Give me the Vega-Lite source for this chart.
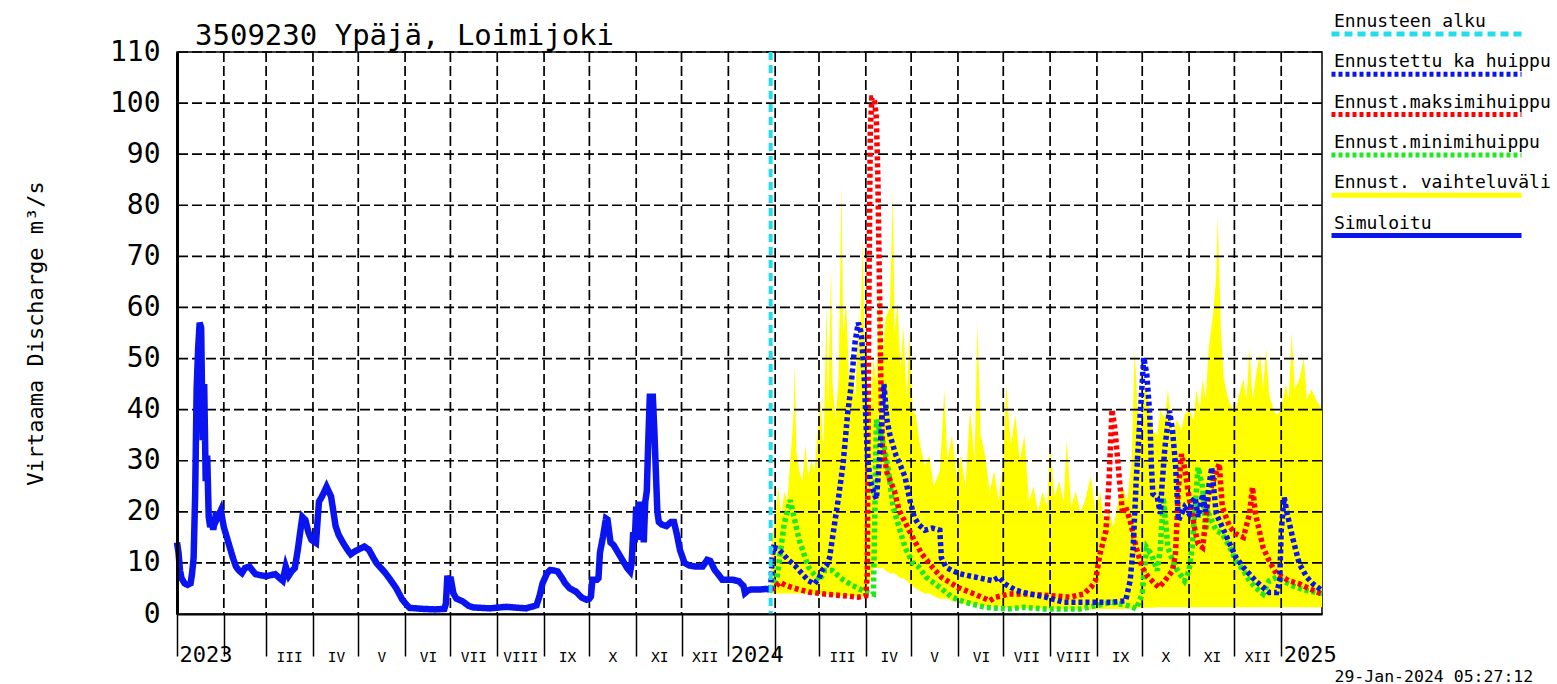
{
  "$schema": "https://vega.github.io/schema/vega-lite/v6.json",
  "width": 1145,
  "height": 562,
  "autosize": {"type": "none"},
  "padding": {"left": 177, "top": 52, "right": 235, "bottom": 70},
  "background": "white",
  "config": {"font": "DejaVu Sans Mono", "view": {"stroke": "black", "strokeWidth": 1.5}},
  "title": {"text": "3509230 Ypäjä, Loimijoki", "anchor": "start", "frame": "group", "dx": 18, "dy": 38, "offset": -23, "baseline": "alphabetic", "fontSize": 29, "fontWeight": "normal", "color": "black", "font": "DejaVu Sans Mono"},
  "datasets": {
    "vgrid": [
      {"date": "2023-02-01"}, {"date": "2023-03-01"}, {"date": "2023-04-01"}, {"date": "2023-05-01"}, {"date": "2023-06-01"}, {"date": "2023-07-01"},
      {"date": "2023-08-01"}, {"date": "2023-09-01"}, {"date": "2023-10-01"}, {"date": "2023-11-01"}, {"date": "2023-12-01"}, {"date": "2024-01-01"},
      {"date": "2024-02-01"}, {"date": "2024-03-01"}, {"date": "2024-04-01"}, {"date": "2024-05-01"}, {"date": "2024-06-01"}, {"date": "2024-07-01"},
      {"date": "2024-08-01"}, {"date": "2024-09-01"}, {"date": "2024-10-01"}, {"date": "2024-11-01"}, {"date": "2024-12-01"}, {"date": "2025-01-01"}
    ],
    "hgrid": [{"q": 10}, {"q": 20}, {"q": 30}, {"q": 40}, {"q": 50}, {"q": 60}, {"q": 70}, {"q": 80}, {"q": 90}, {"q": 100}, {"q": 110}],
    "start": [{"date": "2024-01-29"}],
    "band": [
      {"date": "2024-01-29", "lo": 4, "hi": 5}, {"date": "2024-01-30", "lo": 4, "hi": 15}, {"date": "2024-02-01", "lo": 4, "hi": 18},
      {"date": "2024-02-03", "lo": 4, "hi": 25}, {"date": "2024-02-05", "lo": 4, "hi": 19}, {"date": "2024-02-07", "lo": 4, "hi": 24},
      {"date": "2024-02-09", "lo": 4, "hi": 22}, {"date": "2024-02-11", "lo": 4, "hi": 30}, {"date": "2024-02-13", "lo": 4, "hi": 38},
      {"date": "2024-02-14", "lo": 4, "hi": 49}, {"date": "2024-02-15", "lo": 4, "hi": 32}, {"date": "2024-02-17", "lo": 4, "hi": 28},
      {"date": "2024-02-19", "lo": 4, "hi": 26}, {"date": "2024-02-21", "lo": 4, "hi": 33}, {"date": "2024-02-23", "lo": 4, "hi": 27},
      {"date": "2024-02-25", "lo": 4, "hi": 30}, {"date": "2024-02-27", "lo": 3.8, "hi": 28}, {"date": "2024-02-29", "lo": 3.8, "hi": 35},
      {"date": "2024-03-02", "lo": 3.8, "hi": 42}, {"date": "2024-03-04", "lo": 3.8, "hi": 32}, {"date": "2024-03-06", "lo": 3.8, "hi": 61},
      {"date": "2024-03-07", "lo": 3.8, "hi": 40}, {"date": "2024-03-09", "lo": 3.8, "hi": 68}, {"date": "2024-03-10", "lo": 3.6, "hi": 45},
      {"date": "2024-03-12", "lo": 3.6, "hi": 38}, {"date": "2024-03-14", "lo": 3.6, "hi": 46}, {"date": "2024-03-16", "lo": 3.5, "hi": 84},
      {"date": "2024-03-17", "lo": 3.5, "hi": 55}, {"date": "2024-03-19", "lo": 3.5, "hi": 61}, {"date": "2024-03-21", "lo": 3.5, "hi": 45},
      {"date": "2024-03-23", "lo": 3.4, "hi": 49}, {"date": "2024-03-25", "lo": 3.4, "hi": 42}, {"date": "2024-03-27", "lo": 3.4, "hi": 59},
      {"date": "2024-03-28", "lo": 3.4, "hi": 50}, {"date": "2024-03-30", "lo": 3.4, "hi": 74}, {"date": "2024-03-31", "lo": 3.4, "hi": 55},
      {"date": "2024-04-02", "lo": 5, "hi": 45}, {"date": "2024-04-04", "lo": 7, "hi": 39}, {"date": "2024-04-06", "lo": 9, "hi": 50},
      {"date": "2024-04-08", "lo": 9, "hi": 45}, {"date": "2024-04-10", "lo": 9, "hi": 64}, {"date": "2024-04-12", "lo": 9, "hi": 50},
      {"date": "2024-04-14", "lo": 8.5, "hi": 58}, {"date": "2024-04-17", "lo": 8, "hi": 60}, {"date": "2024-04-19", "lo": 8, "hi": 83},
      {"date": "2024-04-20", "lo": 8, "hi": 55}, {"date": "2024-04-22", "lo": 7.5, "hi": 61}, {"date": "2024-04-24", "lo": 7, "hi": 48},
      {"date": "2024-04-26", "lo": 7, "hi": 56}, {"date": "2024-04-28", "lo": 6.5, "hi": 42}, {"date": "2024-04-30", "lo": 6, "hi": 55},
      {"date": "2024-05-02", "lo": 5.5, "hi": 40}, {"date": "2024-05-04", "lo": 5, "hi": 39}, {"date": "2024-05-07", "lo": 4.5, "hi": 33},
      {"date": "2024-05-10", "lo": 4, "hi": 29}, {"date": "2024-05-13", "lo": 4, "hi": 31}, {"date": "2024-05-16", "lo": 3.5, "hi": 25},
      {"date": "2024-05-20", "lo": 3, "hi": 28}, {"date": "2024-05-23", "lo": 3, "hi": 44}, {"date": "2024-05-25", "lo": 3, "hi": 30},
      {"date": "2024-05-28", "lo": 2.5, "hi": 35}, {"date": "2024-05-31", "lo": 2.5, "hi": 27}, {"date": "2024-06-03", "lo": 2, "hi": 31},
      {"date": "2024-06-06", "lo": 2, "hi": 25}, {"date": "2024-06-09", "lo": 2, "hi": 40}, {"date": "2024-06-12", "lo": 1.8, "hi": 30},
      {"date": "2024-06-14", "lo": 1.8, "hi": 57}, {"date": "2024-06-16", "lo": 1.6, "hi": 35}, {"date": "2024-06-19", "lo": 1.5, "hi": 31},
      {"date": "2024-06-22", "lo": 1.5, "hi": 24}, {"date": "2024-06-25", "lo": 1.4, "hi": 28}, {"date": "2024-06-28", "lo": 1.4, "hi": 22},
      {"date": "2024-07-01", "lo": 1.3, "hi": 30}, {"date": "2024-07-03", "lo": 1.3, "hi": 45}, {"date": "2024-07-06", "lo": 1.2, "hi": 33},
      {"date": "2024-07-09", "lo": 1.2, "hi": 39}, {"date": "2024-07-12", "lo": 1.2, "hi": 30}, {"date": "2024-07-15", "lo": 1.2, "hi": 35},
      {"date": "2024-07-18", "lo": 1.1, "hi": 22}, {"date": "2024-07-21", "lo": 1.1, "hi": 25}, {"date": "2024-07-24", "lo": 1.1, "hi": 20},
      {"date": "2024-07-27", "lo": 1.1, "hi": 24}, {"date": "2024-07-30", "lo": 1, "hi": 21}, {"date": "2024-08-01", "lo": 1, "hi": 33},
      {"date": "2024-08-04", "lo": 1, "hi": 23}, {"date": "2024-08-07", "lo": 1, "hi": 26}, {"date": "2024-08-10", "lo": 1, "hi": 22},
      {"date": "2024-08-12", "lo": 1, "hi": 34}, {"date": "2024-08-15", "lo": 1, "hi": 21}, {"date": "2024-08-18", "lo": 1, "hi": 24},
      {"date": "2024-08-21", "lo": 1, "hi": 20}, {"date": "2024-08-24", "lo": 1, "hi": 22}, {"date": "2024-08-28", "lo": 1, "hi": 27},
      {"date": "2024-08-31", "lo": 1, "hi": 20}, {"date": "2024-09-03", "lo": 1, "hi": 24}, {"date": "2024-09-06", "lo": 1, "hi": 18},
      {"date": "2024-09-09", "lo": 1, "hi": 20}, {"date": "2024-09-12", "lo": 1, "hi": 17}, {"date": "2024-09-15", "lo": 1, "hi": 22},
      {"date": "2024-09-18", "lo": 1, "hi": 25}, {"date": "2024-09-21", "lo": 1.1, "hi": 22}, {"date": "2024-09-24", "lo": 1.1, "hi": 30},
      {"date": "2024-09-26", "lo": 1.1, "hi": 52}, {"date": "2024-09-28", "lo": 1.1, "hi": 40}, {"date": "2024-09-30", "lo": 1.2, "hi": 35},
      {"date": "2024-10-03", "lo": 1.2, "hi": 46}, {"date": "2024-10-05", "lo": 1.2, "hi": 42}, {"date": "2024-10-08", "lo": 1.2, "hi": 36},
      {"date": "2024-10-11", "lo": 1.3, "hi": 35}, {"date": "2024-10-13", "lo": 1.3, "hi": 40}, {"date": "2024-10-16", "lo": 1.3, "hi": 38},
      {"date": "2024-10-18", "lo": 1.3, "hi": 44}, {"date": "2024-10-21", "lo": 1.3, "hi": 35}, {"date": "2024-10-24", "lo": 1.3, "hi": 38},
      {"date": "2024-10-27", "lo": 1.3, "hi": 36}, {"date": "2024-10-29", "lo": 1.3, "hi": 39}, {"date": "2024-11-01", "lo": 1.3, "hi": 40},
      {"date": "2024-11-04", "lo": 1.3, "hi": 38}, {"date": "2024-11-06", "lo": 1.3, "hi": 44}, {"date": "2024-11-08", "lo": 1.3, "hi": 40},
      {"date": "2024-11-10", "lo": 1.3, "hi": 46}, {"date": "2024-11-12", "lo": 1.3, "hi": 42}, {"date": "2024-11-14", "lo": 1.3, "hi": 52},
      {"date": "2024-11-17", "lo": 1.3, "hi": 59}, {"date": "2024-11-19", "lo": 1.3, "hi": 66}, {"date": "2024-11-20", "lo": 1.3, "hi": 78},
      {"date": "2024-11-22", "lo": 1.3, "hi": 56}, {"date": "2024-11-24", "lo": 1.3, "hi": 46}, {"date": "2024-11-27", "lo": 1.3, "hi": 42},
      {"date": "2024-11-30", "lo": 1.3, "hi": 40}, {"date": "2024-12-02", "lo": 1.3, "hi": 40}, {"date": "2024-12-05", "lo": 1.3, "hi": 44},
      {"date": "2024-12-07", "lo": 1.3, "hi": 46}, {"date": "2024-12-09", "lo": 1.3, "hi": 42}, {"date": "2024-12-11", "lo": 1.3, "hi": 52},
      {"date": "2024-12-13", "lo": 1.3, "hi": 42}, {"date": "2024-12-16", "lo": 1.3, "hi": 48}, {"date": "2024-12-18", "lo": 1.3, "hi": 51},
      {"date": "2024-12-20", "lo": 1.3, "hi": 44}, {"date": "2024-12-22", "lo": 1.3, "hi": 52}, {"date": "2024-12-24", "lo": 1.3, "hi": 43},
      {"date": "2024-12-27", "lo": 1.3, "hi": 40}, {"date": "2024-12-29", "lo": 1.3, "hi": 39}, {"date": "2025-01-01", "lo": 1.3, "hi": 40},
      {"date": "2025-01-04", "lo": 1.3, "hi": 45}, {"date": "2025-01-06", "lo": 1.3, "hi": 42}, {"date": "2025-01-08", "lo": 1.3, "hi": 55},
      {"date": "2025-01-10", "lo": 1.3, "hi": 44}, {"date": "2025-01-13", "lo": 1.3, "hi": 46}, {"date": "2025-01-16", "lo": 1.3, "hi": 50},
      {"date": "2025-01-18", "lo": 1.3, "hi": 42}, {"date": "2025-01-21", "lo": 1.3, "hi": 44}, {"date": "2025-01-24", "lo": 1.3, "hi": 42},
      {"date": "2025-01-28", "lo": 1.3, "hi": 40}
    ],
    "lines": [
      {"series": "Simuloitu", "date": "2023-01-01", "q": 14}, {"series": "Simuloitu", "date": "2023-01-02", "q": 12}, {"series": "Simuloitu", "date": "2023-01-03", "q": 8.5},
      {"series": "Simuloitu", "date": "2023-01-04", "q": 7}, {"series": "Simuloitu", "date": "2023-01-06", "q": 6}, {"series": "Simuloitu", "date": "2023-01-08", "q": 5.7},
      {"series": "Simuloitu", "date": "2023-01-10", "q": 6}, {"series": "Simuloitu", "date": "2023-01-11", "q": 8}, {"series": "Simuloitu", "date": "2023-01-12", "q": 11},
      {"series": "Simuloitu", "date": "2023-01-13", "q": 23}, {"series": "Simuloitu", "date": "2023-01-14", "q": 44}, {"series": "Simuloitu", "date": "2023-01-15", "q": 52},
      {"series": "Simuloitu", "date": "2023-01-16", "q": 57}, {"series": "Simuloitu", "date": "2023-01-17", "q": 56}, {"series": "Simuloitu", "date": "2023-01-18", "q": 34},
      {"series": "Simuloitu", "date": "2023-01-19", "q": 45}, {"series": "Simuloitu", "date": "2023-01-20", "q": 26}, {"series": "Simuloitu", "date": "2023-01-21", "q": 31},
      {"series": "Simuloitu", "date": "2023-01-22", "q": 19}, {"series": "Simuloitu", "date": "2023-01-23", "q": 17}, {"series": "Simuloitu", "date": "2023-01-24", "q": 18},
      {"series": "Simuloitu", "date": "2023-01-25", "q": 16.5}, {"series": "Simuloitu", "date": "2023-01-27", "q": 20}, {"series": "Simuloitu", "date": "2023-01-28", "q": 19},
      {"series": "Simuloitu", "date": "2023-01-30", "q": 20.3}, {"series": "Simuloitu", "date": "2023-02-01", "q": 17}, {"series": "Simuloitu", "date": "2023-02-03", "q": 15},
      {"series": "Simuloitu", "date": "2023-02-05", "q": 13}, {"series": "Simuloitu", "date": "2023-02-07", "q": 11}, {"series": "Simuloitu", "date": "2023-02-09", "q": 9.3},
      {"series": "Simuloitu", "date": "2023-02-11", "q": 8.5}, {"series": "Simuloitu", "date": "2023-02-13", "q": 8}, {"series": "Simuloitu", "date": "2023-02-15", "q": 9},
      {"series": "Simuloitu", "date": "2023-02-18", "q": 9.3}, {"series": "Simuloitu", "date": "2023-02-20", "q": 8.5}, {"series": "Simuloitu", "date": "2023-02-22", "q": 7.8},
      {"series": "Simuloitu", "date": "2023-02-25", "q": 7.6}, {"series": "Simuloitu", "date": "2023-03-01", "q": 7.4}, {"series": "Simuloitu", "date": "2023-03-04", "q": 7.6},
      {"series": "Simuloitu", "date": "2023-03-07", "q": 7.8}, {"series": "Simuloitu", "date": "2023-03-10", "q": 7}, {"series": "Simuloitu", "date": "2023-03-12", "q": 6.5},
      {"series": "Simuloitu", "date": "2023-03-14", "q": 9.3}, {"series": "Simuloitu", "date": "2023-03-16", "q": 7.5}, {"series": "Simuloitu", "date": "2023-03-18", "q": 8.4},
      {"series": "Simuloitu", "date": "2023-03-20", "q": 9}, {"series": "Simuloitu", "date": "2023-03-22", "q": 12.6}, {"series": "Simuloitu", "date": "2023-03-24", "q": 17},
      {"series": "Simuloitu", "date": "2023-03-25", "q": 19}, {"series": "Simuloitu", "date": "2023-03-27", "q": 18.4}, {"series": "Simuloitu", "date": "2023-03-29", "q": 16},
      {"series": "Simuloitu", "date": "2023-03-31", "q": 14.5}, {"series": "Simuloitu", "date": "2023-04-03", "q": 13.9}, {"series": "Simuloitu", "date": "2023-04-04", "q": 18},
      {"series": "Simuloitu", "date": "2023-04-05", "q": 22}, {"series": "Simuloitu", "date": "2023-04-07", "q": 23}, {"series": "Simuloitu", "date": "2023-04-10", "q": 24.9},
      {"series": "Simuloitu", "date": "2023-04-13", "q": 23}, {"series": "Simuloitu", "date": "2023-04-16", "q": 17.2}, {"series": "Simuloitu", "date": "2023-04-18", "q": 15.5},
      {"series": "Simuloitu", "date": "2023-04-21", "q": 13.9}, {"series": "Simuloitu", "date": "2023-04-24", "q": 12.5}, {"series": "Simuloitu", "date": "2023-04-26", "q": 11.7},
      {"series": "Simuloitu", "date": "2023-04-29", "q": 12.3}, {"series": "Simuloitu", "date": "2023-05-01", "q": 12.6}, {"series": "Simuloitu", "date": "2023-05-05", "q": 13.2},
      {"series": "Simuloitu", "date": "2023-05-08", "q": 12.6}, {"series": "Simuloitu", "date": "2023-05-11", "q": 11}, {"series": "Simuloitu", "date": "2023-05-13", "q": 10},
      {"series": "Simuloitu", "date": "2023-05-16", "q": 9}, {"series": "Simuloitu", "date": "2023-05-19", "q": 8}, {"series": "Simuloitu", "date": "2023-05-22", "q": 6.8},
      {"series": "Simuloitu", "date": "2023-05-26", "q": 5.1}, {"series": "Simuloitu", "date": "2023-05-30", "q": 2.9}, {"series": "Simuloitu", "date": "2023-06-02", "q": 1.8},
      {"series": "Simuloitu", "date": "2023-06-04", "q": 1.2}, {"series": "Simuloitu", "date": "2023-06-13", "q": 1}, {"series": "Simuloitu", "date": "2023-06-21", "q": 0.9},
      {"series": "Simuloitu", "date": "2023-06-27", "q": 1}, {"series": "Simuloitu", "date": "2023-06-28", "q": 2}, {"series": "Simuloitu", "date": "2023-06-29", "q": 7.5},
      {"series": "Simuloitu", "date": "2023-06-30", "q": 6}, {"series": "Simuloitu", "date": "2023-07-01", "q": 7.3}, {"series": "Simuloitu", "date": "2023-07-03", "q": 4},
      {"series": "Simuloitu", "date": "2023-07-05", "q": 3}, {"series": "Simuloitu", "date": "2023-07-09", "q": 2.5}, {"series": "Simuloitu", "date": "2023-07-13", "q": 1.6},
      {"series": "Simuloitu", "date": "2023-07-16", "q": 1.3}, {"series": "Simuloitu", "date": "2023-07-27", "q": 1.1}, {"series": "Simuloitu", "date": "2023-08-07", "q": 1.4},
      {"series": "Simuloitu", "date": "2023-08-20", "q": 1.1}, {"series": "Simuloitu", "date": "2023-08-27", "q": 1.7}, {"series": "Simuloitu", "date": "2023-08-29", "q": 3.5},
      {"series": "Simuloitu", "date": "2023-08-31", "q": 6}, {"series": "Simuloitu", "date": "2023-09-03", "q": 8}, {"series": "Simuloitu", "date": "2023-09-05", "q": 8.6},
      {"series": "Simuloitu", "date": "2023-09-08", "q": 8.5}, {"series": "Simuloitu", "date": "2023-09-10", "q": 8.3}, {"series": "Simuloitu", "date": "2023-09-13", "q": 7},
      {"series": "Simuloitu", "date": "2023-09-15", "q": 6}, {"series": "Simuloitu", "date": "2023-09-18", "q": 5}, {"series": "Simuloitu", "date": "2023-09-22", "q": 4.4},
      {"series": "Simuloitu", "date": "2023-09-26", "q": 3.2}, {"series": "Simuloitu", "date": "2023-09-29", "q": 2.8}, {"series": "Simuloitu", "date": "2023-10-01", "q": 3},
      {"series": "Simuloitu", "date": "2023-10-02", "q": 3.4}, {"series": "Simuloitu", "date": "2023-10-03", "q": 6.7}, {"series": "Simuloitu", "date": "2023-10-06", "q": 6.7},
      {"series": "Simuloitu", "date": "2023-10-07", "q": 7}, {"series": "Simuloitu", "date": "2023-10-08", "q": 12}, {"series": "Simuloitu", "date": "2023-10-10", "q": 15.1},
      {"series": "Simuloitu", "date": "2023-10-12", "q": 18.7}, {"series": "Simuloitu", "date": "2023-10-13", "q": 18.5}, {"series": "Simuloitu", "date": "2023-10-15", "q": 14},
      {"series": "Simuloitu", "date": "2023-10-17", "q": 13.5}, {"series": "Simuloitu", "date": "2023-10-20", "q": 12}, {"series": "Simuloitu", "date": "2023-10-23", "q": 10.5},
      {"series": "Simuloitu", "date": "2023-10-26", "q": 9}, {"series": "Simuloitu", "date": "2023-10-28", "q": 8.3}, {"series": "Simuloitu", "date": "2023-10-29", "q": 10},
      {"series": "Simuloitu", "date": "2023-10-30", "q": 16}, {"series": "Simuloitu", "date": "2023-10-31", "q": 14}, {"series": "Simuloitu", "date": "2023-11-01", "q": 21},
      {"series": "Simuloitu", "date": "2023-11-02", "q": 15}, {"series": "Simuloitu", "date": "2023-11-03", "q": 22}, {"series": "Simuloitu", "date": "2023-11-04", "q": 14.5},
      {"series": "Simuloitu", "date": "2023-11-05", "q": 21.5}, {"series": "Simuloitu", "date": "2023-11-06", "q": 14}, {"series": "Simuloitu", "date": "2023-11-07", "q": 22},
      {"series": "Simuloitu", "date": "2023-11-08", "q": 24}, {"series": "Simuloitu", "date": "2023-11-09", "q": 34}, {"series": "Simuloitu", "date": "2023-11-10", "q": 42.5},
      {"series": "Simuloitu", "date": "2023-11-12", "q": 42.5}, {"series": "Simuloitu", "date": "2023-11-13", "q": 36}, {"series": "Simuloitu", "date": "2023-11-14", "q": 28},
      {"series": "Simuloitu", "date": "2023-11-15", "q": 20}, {"series": "Simuloitu", "date": "2023-11-16", "q": 18}, {"series": "Simuloitu", "date": "2023-11-18", "q": 17.5},
      {"series": "Simuloitu", "date": "2023-11-21", "q": 17.2}, {"series": "Simuloitu", "date": "2023-11-24", "q": 18}, {"series": "Simuloitu", "date": "2023-11-26", "q": 18},
      {"series": "Simuloitu", "date": "2023-11-28", "q": 15.5}, {"series": "Simuloitu", "date": "2023-11-30", "q": 12.5}, {"series": "Simuloitu", "date": "2023-12-03", "q": 10},
      {"series": "Simuloitu", "date": "2023-12-06", "q": 9.5}, {"series": "Simuloitu", "date": "2023-12-10", "q": 9.3}, {"series": "Simuloitu", "date": "2023-12-15", "q": 9.3},
      {"series": "Simuloitu", "date": "2023-12-18", "q": 10.6}, {"series": "Simuloitu", "date": "2023-12-20", "q": 10.4}, {"series": "Simuloitu", "date": "2023-12-23", "q": 8.6},
      {"series": "Simuloitu", "date": "2023-12-26", "q": 7.5}, {"series": "Simuloitu", "date": "2023-12-28", "q": 6.7}, {"series": "Simuloitu", "date": "2024-01-04", "q": 6.7},
      {"series": "Simuloitu", "date": "2024-01-08", "q": 6.4}, {"series": "Simuloitu", "date": "2024-01-11", "q": 5.5}, {"series": "Simuloitu", "date": "2024-01-12", "q": 4.1},
      {"series": "Simuloitu", "date": "2024-01-14", "q": 4.6}, {"series": "Simuloitu", "date": "2024-01-16", "q": 4.8}, {"series": "Simuloitu", "date": "2024-01-22", "q": 4.8},
      {"series": "Simuloitu", "date": "2024-01-26", "q": 4.9}, {"series": "Simuloitu", "date": "2024-01-29", "q": 4.8},

      {"series": "Ennustettu ka huippu", "date": "2024-01-29", "q": 4.8}, {"series": "Ennustettu ka huippu", "date": "2024-01-30", "q": 11}, {"series": "Ennustettu ka huippu", "date": "2024-01-31", "q": 13},
      {"series": "Ennustettu ka huippu", "date": "2024-02-03", "q": 12.8}, {"series": "Ennustettu ka huippu", "date": "2024-02-06", "q": 11.8}, {"series": "Ennustettu ka huippu", "date": "2024-02-10", "q": 10.5},
      {"series": "Ennustettu ka huippu", "date": "2024-02-14", "q": 9.5}, {"series": "Ennustettu ka huippu", "date": "2024-02-17", "q": 8.5}, {"series": "Ennustettu ka huippu", "date": "2024-02-20", "q": 7.5},
      {"series": "Ennustettu ka huippu", "date": "2024-02-23", "q": 6.5}, {"series": "Ennustettu ka huippu", "date": "2024-02-27", "q": 5.9}, {"series": "Ennustettu ka huippu", "date": "2024-03-01", "q": 7},
      {"series": "Ennustettu ka huippu", "date": "2024-03-03", "q": 8.5}, {"series": "Ennustettu ka huippu", "date": "2024-03-06", "q": 9.5}, {"series": "Ennustettu ka huippu", "date": "2024-03-08", "q": 11},
      {"series": "Ennustettu ka huippu", "date": "2024-03-10", "q": 15}, {"series": "Ennustettu ka huippu", "date": "2024-03-12", "q": 19}, {"series": "Ennustettu ka huippu", "date": "2024-03-14", "q": 22.9},
      {"series": "Ennustettu ka huippu", "date": "2024-03-17", "q": 29.5}, {"series": "Ennustettu ka huippu", "date": "2024-03-20", "q": 39.3}, {"series": "Ennustettu ka huippu", "date": "2024-03-22", "q": 44},
      {"series": "Ennustettu ka huippu", "date": "2024-03-25", "q": 53.5}, {"series": "Ennustettu ka huippu", "date": "2024-03-27", "q": 57}, {"series": "Ennustettu ka huippu", "date": "2024-03-29", "q": 55},
      {"series": "Ennustettu ka huippu", "date": "2024-03-31", "q": 46}, {"series": "Ennustettu ka huippu", "date": "2024-04-02", "q": 31}, {"series": "Ennustettu ka huippu", "date": "2024-04-04", "q": 26},
      {"series": "Ennustettu ka huippu", "date": "2024-04-06", "q": 24}, {"series": "Ennustettu ka huippu", "date": "2024-04-08", "q": 22.5}, {"series": "Ennustettu ka huippu", "date": "2024-04-10", "q": 30},
      {"series": "Ennustettu ka huippu", "date": "2024-04-12", "q": 40}, {"series": "Ennustettu ka huippu", "date": "2024-04-13", "q": 45}, {"series": "Ennustettu ka huippu", "date": "2024-04-15", "q": 38},
      {"series": "Ennustettu ka huippu", "date": "2024-04-17", "q": 35}, {"series": "Ennustettu ka huippu", "date": "2024-04-19", "q": 33}, {"series": "Ennustettu ka huippu", "date": "2024-04-21", "q": 31},
      {"series": "Ennustettu ka huippu", "date": "2024-04-24", "q": 29}, {"series": "Ennustettu ka huippu", "date": "2024-04-27", "q": 26.8}, {"series": "Ennustettu ka huippu", "date": "2024-04-30", "q": 22.5},
      {"series": "Ennustettu ka huippu", "date": "2024-05-03", "q": 19}, {"series": "Ennustettu ka huippu", "date": "2024-05-06", "q": 17.5}, {"series": "Ennustettu ka huippu", "date": "2024-05-10", "q": 16.4},
      {"series": "Ennustettu ka huippu", "date": "2024-05-15", "q": 16.8}, {"series": "Ennustettu ka huippu", "date": "2024-05-20", "q": 16.4}, {"series": "Ennustettu ka huippu", "date": "2024-05-21", "q": 11},
      {"series": "Ennustettu ka huippu", "date": "2024-05-24", "q": 9.2}, {"series": "Ennustettu ka huippu", "date": "2024-05-28", "q": 8.5}, {"series": "Ennustettu ka huippu", "date": "2024-06-02", "q": 7.9},
      {"series": "Ennustettu ka huippu", "date": "2024-06-08", "q": 7.5}, {"series": "Ennustettu ka huippu", "date": "2024-06-13", "q": 7.2}, {"series": "Ennustettu ka huippu", "date": "2024-06-19", "q": 6.8},
      {"series": "Ennustettu ka huippu", "date": "2024-06-24", "q": 6.5}, {"series": "Ennustettu ka huippu", "date": "2024-06-28", "q": 7.2}, {"series": "Ennustettu ka huippu", "date": "2024-07-02", "q": 5.9},
      {"series": "Ennustettu ka huippu", "date": "2024-07-06", "q": 5.2}, {"series": "Ennustettu ka huippu", "date": "2024-07-10", "q": 4.6}, {"series": "Ennustettu ka huippu", "date": "2024-07-15", "q": 4.2},
      {"series": "Ennustettu ka huippu", "date": "2024-07-19", "q": 3.9}, {"series": "Ennustettu ka huippu", "date": "2024-07-24", "q": 3.6}, {"series": "Ennustettu ka huippu", "date": "2024-07-29", "q": 3.3},
      {"series": "Ennustettu ka huippu", "date": "2024-08-04", "q": 2.8}, {"series": "Ennustettu ka huippu", "date": "2024-08-10", "q": 2.3}, {"series": "Ennustettu ka huippu", "date": "2024-08-21", "q": 2.3},
      {"series": "Ennustettu ka huippu", "date": "2024-08-31", "q": 2.3}, {"series": "Ennustettu ka huippu", "date": "2024-09-11", "q": 2.3}, {"series": "Ennustettu ka huippu", "date": "2024-09-20", "q": 2.6},
      {"series": "Ennustettu ka huippu", "date": "2024-09-23", "q": 6.5}, {"series": "Ennustettu ka huippu", "date": "2024-09-25", "q": 13}, {"series": "Ennustettu ka huippu", "date": "2024-09-27", "q": 26},
      {"series": "Ennustettu ka huippu", "date": "2024-09-29", "q": 35.9}, {"series": "Ennustettu ka huippu", "date": "2024-10-02", "q": 50.2}, {"series": "Ennustettu ka huippu", "date": "2024-10-04", "q": 47},
      {"series": "Ennustettu ka huippu", "date": "2024-10-06", "q": 39}, {"series": "Ennustettu ka huippu", "date": "2024-10-07", "q": 29.4}, {"series": "Ennustettu ka huippu", "date": "2024-10-08", "q": 23.5},
      {"series": "Ennustettu ka huippu", "date": "2024-10-11", "q": 22.8}, {"series": "Ennustettu ka huippu", "date": "2024-10-13", "q": 19.6}, {"series": "Ennustettu ka huippu", "date": "2024-10-14", "q": 24.8},
      {"series": "Ennustettu ka huippu", "date": "2024-10-16", "q": 32.6}, {"series": "Ennustettu ka huippu", "date": "2024-10-19", "q": 39.8}, {"series": "Ennustettu ka huippu", "date": "2024-10-21", "q": 36},
      {"series": "Ennustettu ka huippu", "date": "2024-10-23", "q": 29.4}, {"series": "Ennustettu ka huippu", "date": "2024-10-24", "q": 23.5}, {"series": "Ennustettu ka huippu", "date": "2024-10-25", "q": 18.3},
      {"series": "Ennustettu ka huippu", "date": "2024-10-27", "q": 19.6}, {"series": "Ennustettu ka huippu", "date": "2024-10-29", "q": 20.9}, {"series": "Ennustettu ka huippu", "date": "2024-11-01", "q": 19.6},
      {"series": "Ennustettu ka huippu", "date": "2024-11-03", "q": 22}, {"series": "Ennustettu ka huippu", "date": "2024-11-05", "q": 22.8}, {"series": "Ennustettu ka huippu", "date": "2024-11-07", "q": 19},
      {"series": "Ennustettu ka huippu", "date": "2024-11-10", "q": 23.5}, {"series": "Ennustettu ka huippu", "date": "2024-11-12", "q": 20}, {"series": "Ennustettu ka huippu", "date": "2024-11-14", "q": 24.8},
      {"series": "Ennustettu ka huippu", "date": "2024-11-16", "q": 28.7}, {"series": "Ennustettu ka huippu", "date": "2024-11-19", "q": 19.6}, {"series": "Ennustettu ka huippu", "date": "2024-11-23", "q": 17},
      {"series": "Ennustettu ka huippu", "date": "2024-11-28", "q": 13.7}, {"series": "Ennustettu ka huippu", "date": "2024-12-02", "q": 11.1}, {"series": "Ennustettu ka huippu", "date": "2024-12-07", "q": 9.1},
      {"series": "Ennustettu ka huippu", "date": "2024-12-11", "q": 7.8}, {"series": "Ennustettu ka huippu", "date": "2024-12-15", "q": 6.5}, {"series": "Ennustettu ka huippu", "date": "2024-12-20", "q": 5.2},
      {"series": "Ennustettu ka huippu", "date": "2024-12-24", "q": 4.2}, {"series": "Ennustettu ka huippu", "date": "2024-12-29", "q": 4.2}, {"series": "Ennustettu ka huippu", "date": "2024-12-31", "q": 6.5},
      {"series": "Ennustettu ka huippu", "date": "2025-01-01", "q": 16.3}, {"series": "Ennustettu ka huippu", "date": "2025-01-03", "q": 22.8}, {"series": "Ennustettu ka huippu", "date": "2025-01-05", "q": 19.6},
      {"series": "Ennustettu ka huippu", "date": "2025-01-09", "q": 14.4}, {"series": "Ennustettu ka huippu", "date": "2025-01-13", "q": 9.8}, {"series": "Ennustettu ka huippu", "date": "2025-01-18", "q": 7.2},
      {"series": "Ennustettu ka huippu", "date": "2025-01-22", "q": 5.9}, {"series": "Ennustettu ka huippu", "date": "2025-01-28", "q": 4.6},

      {"series": "Ennust.maksimihuippu", "date": "2024-01-29", "q": 4.8}, {"series": "Ennust.maksimihuippu", "date": "2024-01-31", "q": 5}, {"series": "Ennust.maksimihuippu", "date": "2024-02-04", "q": 6.2},
      {"series": "Ennust.maksimihuippu", "date": "2024-02-08", "q": 5.6}, {"series": "Ennust.maksimihuippu", "date": "2024-02-12", "q": 5.2}, {"series": "Ennust.maksimihuippu", "date": "2024-02-18", "q": 4.7},
      {"series": "Ennust.maksimihuippu", "date": "2024-02-23", "q": 4.3}, {"series": "Ennust.maksimihuippu", "date": "2024-03-05", "q": 3.9}, {"series": "Ennust.maksimihuippu", "date": "2024-03-16", "q": 3.6},
      {"series": "Ennust.maksimihuippu", "date": "2024-03-27", "q": 3.3}, {"series": "Ennust.maksimihuippu", "date": "2024-04-01", "q": 3.6}, {"series": "Ennust.maksimihuippu", "date": "2024-04-02", "q": 8},
      {"series": "Ennust.maksimihuippu", "date": "2024-04-03", "q": 60}, {"series": "Ennust.maksimihuippu", "date": "2024-04-04", "q": 95}, {"series": "Ennust.maksimihuippu", "date": "2024-04-05", "q": 101},
      {"series": "Ennust.maksimihuippu", "date": "2024-04-06", "q": 101}, {"series": "Ennust.maksimihuippu", "date": "2024-04-07", "q": 100}, {"series": "Ennust.maksimihuippu", "date": "2024-04-08", "q": 97},
      {"series": "Ennust.maksimihuippu", "date": "2024-04-09", "q": 85}, {"series": "Ennust.maksimihuippu", "date": "2024-04-10", "q": 65}, {"series": "Ennust.maksimihuippu", "date": "2024-04-11", "q": 45},
      {"series": "Ennust.maksimihuippu", "date": "2024-04-12", "q": 33},
      {"series": "Ennust.maksimihuippu", "date": "2024-04-15", "q": 27.7}, {"series": "Ennust.maksimihuippu", "date": "2024-04-20", "q": 24}, {"series": "Ennust.maksimihuippu", "date": "2024-04-23", "q": 20.3},
      {"series": "Ennust.maksimihuippu", "date": "2024-04-27", "q": 18}, {"series": "Ennust.maksimihuippu", "date": "2024-05-02", "q": 15}, {"series": "Ennust.maksimihuippu", "date": "2024-05-08", "q": 11.8},
      {"series": "Ennust.maksimihuippu", "date": "2024-05-15", "q": 9.2}, {"series": "Ennust.maksimihuippu", "date": "2024-05-21", "q": 7.2}, {"series": "Ennust.maksimihuippu", "date": "2024-06-01", "q": 5.2},
      {"series": "Ennust.maksimihuippu", "date": "2024-06-12", "q": 3.9}, {"series": "Ennust.maksimihuippu", "date": "2024-06-22", "q": 2.6}, {"series": "Ennust.maksimihuippu", "date": "2024-06-26", "q": 3.3},
      {"series": "Ennust.maksimihuippu", "date": "2024-07-05", "q": 3.9}, {"series": "Ennust.maksimihuippu", "date": "2024-07-18", "q": 3.9}, {"series": "Ennust.maksimihuippu", "date": "2024-08-01", "q": 3.6},
      {"series": "Ennust.maksimihuippu", "date": "2024-08-14", "q": 3.3}, {"series": "Ennust.maksimihuippu", "date": "2024-08-23", "q": 3.9}, {"series": "Ennust.maksimihuippu", "date": "2024-08-28", "q": 5.2},
      {"series": "Ennust.maksimihuippu", "date": "2024-08-31", "q": 6.5}, {"series": "Ennust.maksimihuippu", "date": "2024-09-03", "q": 11.7}, {"series": "Ennust.maksimihuippu", "date": "2024-09-07", "q": 16.3},
      {"series": "Ennust.maksimihuippu", "date": "2024-09-09", "q": 26}, {"series": "Ennust.maksimihuippu", "date": "2024-09-11", "q": 40}, {"series": "Ennust.maksimihuippu", "date": "2024-09-13", "q": 36},
      {"series": "Ennust.maksimihuippu", "date": "2024-09-16", "q": 26}, {"series": "Ennust.maksimihuippu", "date": "2024-09-18", "q": 19.6}, {"series": "Ennust.maksimihuippu", "date": "2024-09-20", "q": 21},
      {"series": "Ennust.maksimihuippu", "date": "2024-09-23", "q": 18.3}, {"series": "Ennust.maksimihuippu", "date": "2024-09-27", "q": 13}, {"series": "Ennust.maksimihuippu", "date": "2024-10-01", "q": 9.1},
      {"series": "Ennust.maksimihuippu", "date": "2024-10-05", "q": 7.2}, {"series": "Ennust.maksimihuippu", "date": "2024-10-12", "q": 5.2}, {"series": "Ennust.maksimihuippu", "date": "2024-10-16", "q": 6.5},
      {"series": "Ennust.maksimihuippu", "date": "2024-10-21", "q": 8.5}, {"series": "Ennust.maksimihuippu", "date": "2024-10-23", "q": 11.7}, {"series": "Ennust.maksimihuippu", "date": "2024-10-25", "q": 24.8},
      {"series": "Ennust.maksimihuippu", "date": "2024-10-27", "q": 31.3}, {"series": "Ennust.maksimihuippu", "date": "2024-10-29", "q": 28.7}, {"series": "Ennust.maksimihuippu", "date": "2024-11-01", "q": 22.8},
      {"series": "Ennust.maksimihuippu", "date": "2024-11-03", "q": 19.6}, {"series": "Ennust.maksimihuippu", "date": "2024-11-05", "q": 16.3}, {"series": "Ennust.maksimihuippu", "date": "2024-11-07", "q": 13.7},
      {"series": "Ennust.maksimihuippu", "date": "2024-11-10", "q": 13}, {"series": "Ennust.maksimihuippu", "date": "2024-11-12", "q": 18.3}, {"series": "Ennust.maksimihuippu", "date": "2024-11-14", "q": 23.5},
      {"series": "Ennust.maksimihuippu", "date": "2024-11-17", "q": 26}, {"series": "Ennust.maksimihuippu", "date": "2024-11-21", "q": 29.4}, {"series": "Ennust.maksimihuippu", "date": "2024-11-23", "q": 20.9},
      {"series": "Ennust.maksimihuippu", "date": "2024-11-28", "q": 17}, {"series": "Ennust.maksimihuippu", "date": "2024-12-02", "q": 15.7}, {"series": "Ennust.maksimihuippu", "date": "2024-12-07", "q": 15},
      {"series": "Ennust.maksimihuippu", "date": "2024-12-11", "q": 19.6}, {"series": "Ennust.maksimihuippu", "date": "2024-12-13", "q": 24.8}, {"series": "Ennust.maksimihuippu", "date": "2024-12-15", "q": 19.6},
      {"series": "Ennust.maksimihuippu", "date": "2024-12-20", "q": 13}, {"series": "Ennust.maksimihuippu", "date": "2024-12-24", "q": 10.4}, {"series": "Ennust.maksimihuippu", "date": "2024-12-29", "q": 7.8},
      {"series": "Ennust.maksimihuippu", "date": "2025-01-02", "q": 7.2}, {"series": "Ennust.maksimihuippu", "date": "2025-01-06", "q": 6.5}, {"series": "Ennust.maksimihuippu", "date": "2025-01-13", "q": 5.9},
      {"series": "Ennust.maksimihuippu", "date": "2025-01-20", "q": 4.9}, {"series": "Ennust.maksimihuippu", "date": "2025-01-28", "q": 3.9},

      {"series": "Ennust.minimihuippu", "date": "2024-01-29", "q": 4.8}, {"series": "Ennust.minimihuippu", "date": "2024-02-02", "q": 6.6}, {"series": "Ennust.minimihuippu", "date": "2024-02-07", "q": 17.7},
      {"series": "Ennust.minimihuippu", "date": "2024-02-11", "q": 22.3}, {"series": "Ennust.minimihuippu", "date": "2024-02-13", "q": 19.6}, {"series": "Ennust.minimihuippu", "date": "2024-02-17", "q": 14.4},
      {"series": "Ennust.minimihuippu", "date": "2024-02-23", "q": 9.2}, {"series": "Ennust.minimihuippu", "date": "2024-03-01", "q": 6.5}, {"series": "Ennust.minimihuippu", "date": "2024-03-05", "q": 8.5},
      {"series": "Ennust.minimihuippu", "date": "2024-03-10", "q": 8.5}, {"series": "Ennust.minimihuippu", "date": "2024-03-16", "q": 6.9}, {"series": "Ennust.minimihuippu", "date": "2024-03-23", "q": 5.6},
      {"series": "Ennust.minimihuippu", "date": "2024-04-01", "q": 4.3}, {"series": "Ennust.minimihuippu", "date": "2024-04-06", "q": 3.9}, {"series": "Ennust.minimihuippu", "date": "2024-04-07", "q": 20},
      {"series": "Ennust.minimihuippu", "date": "2024-04-08", "q": 38}, {"series": "Ennust.minimihuippu", "date": "2024-04-10", "q": 36}, {"series": "Ennust.minimihuippu", "date": "2024-04-13", "q": 33},
      {"series": "Ennust.minimihuippu", "date": "2024-04-16", "q": 28}, {"series": "Ennust.minimihuippu", "date": "2024-04-19", "q": 21}, {"series": "Ennust.minimihuippu", "date": "2024-04-23", "q": 17},
      {"series": "Ennust.minimihuippu", "date": "2024-04-27", "q": 13}, {"series": "Ennust.minimihuippu", "date": "2024-05-02", "q": 10}, {"series": "Ennust.minimihuippu", "date": "2024-05-06", "q": 9.2},
      {"series": "Ennust.minimihuippu", "date": "2024-05-11", "q": 7.2}, {"series": "Ennust.minimihuippu", "date": "2024-05-20", "q": 5.2}, {"series": "Ennust.minimihuippu", "date": "2024-05-28", "q": 3.3},
      {"series": "Ennust.minimihuippu", "date": "2024-06-06", "q": 2.3}, {"series": "Ennust.minimihuippu", "date": "2024-06-19", "q": 1.3}, {"series": "Ennust.minimihuippu", "date": "2024-07-04", "q": 1},
      {"series": "Ennust.minimihuippu", "date": "2024-07-15", "q": 1.3}, {"series": "Ennust.minimihuippu", "date": "2024-07-29", "q": 1}, {"series": "Ennust.minimihuippu", "date": "2024-08-10", "q": 1},
      {"series": "Ennust.minimihuippu", "date": "2024-08-21", "q": 1}, {"series": "Ennust.minimihuippu", "date": "2024-08-31", "q": 1.6}, {"series": "Ennust.minimihuippu", "date": "2024-09-11", "q": 2.3},
      {"series": "Ennust.minimihuippu", "date": "2024-09-22", "q": 1.6}, {"series": "Ennust.minimihuippu", "date": "2024-09-27", "q": 1}, {"series": "Ennust.minimihuippu", "date": "2024-10-01", "q": 3.9},
      {"series": "Ennust.minimihuippu", "date": "2024-10-02", "q": 7.8}, {"series": "Ennust.minimihuippu", "date": "2024-10-04", "q": 13}, {"series": "Ennust.minimihuippu", "date": "2024-10-07", "q": 11.7},
      {"series": "Ennust.minimihuippu", "date": "2024-10-11", "q": 8.5}, {"series": "Ennust.minimihuippu", "date": "2024-10-13", "q": 13}, {"series": "Ennust.minimihuippu", "date": "2024-10-15", "q": 22.8},
      {"series": "Ennust.minimihuippu", "date": "2024-10-16", "q": 19.6}, {"series": "Ennust.minimihuippu", "date": "2024-10-18", "q": 13}, {"series": "Ennust.minimihuippu", "date": "2024-10-23", "q": 9.1},
      {"series": "Ennust.minimihuippu", "date": "2024-10-29", "q": 6.5}, {"series": "Ennust.minimihuippu", "date": "2024-11-01", "q": 8.5}, {"series": "Ennust.minimihuippu", "date": "2024-11-03", "q": 13},
      {"series": "Ennust.minimihuippu", "date": "2024-11-05", "q": 20.9}, {"series": "Ennust.minimihuippu", "date": "2024-11-07", "q": 28.7}, {"series": "Ennust.minimihuippu", "date": "2024-11-10", "q": 24.8},
      {"series": "Ennust.minimihuippu", "date": "2024-11-12", "q": 16.3}, {"series": "Ennust.minimihuippu", "date": "2024-11-14", "q": 19.6}, {"series": "Ennust.minimihuippu", "date": "2024-11-19", "q": 16.3},
      {"series": "Ennust.minimihuippu", "date": "2024-11-23", "q": 15.7}, {"series": "Ennust.minimihuippu", "date": "2024-11-28", "q": 13}, {"series": "Ennust.minimihuippu", "date": "2024-12-02", "q": 10.4},
      {"series": "Ennust.minimihuippu", "date": "2024-12-07", "q": 8.5}, {"series": "Ennust.minimihuippu", "date": "2024-12-11", "q": 6.5}, {"series": "Ennust.minimihuippu", "date": "2024-12-15", "q": 5.2},
      {"series": "Ennust.minimihuippu", "date": "2024-12-20", "q": 3.9}, {"series": "Ennust.minimihuippu", "date": "2024-12-24", "q": 6.5}, {"series": "Ennust.minimihuippu", "date": "2024-12-29", "q": 7.2},
      {"series": "Ennust.minimihuippu", "date": "2025-01-02", "q": 6.5}, {"series": "Ennust.minimihuippu", "date": "2025-01-06", "q": 5.9}, {"series": "Ennust.minimihuippu", "date": "2025-01-11", "q": 5.2},
      {"series": "Ennust.minimihuippu", "date": "2025-01-18", "q": 4.6}, {"series": "Ennust.minimihuippu", "date": "2025-01-24", "q": 4.2}, {"series": "Ennust.minimihuippu", "date": "2025-01-28", "q": 4}
    ]
  },
  "layer": [
    {
      "data": {"name": "band"},
      "mark": {"type": "area", "color": "#ffff00", "interpolate": "linear"},
      "encoding": {
        "x": {
          "field": "date", "type": "temporal",
          "scale": {"type": "utc", "nice": false, "domain": [{"year": 2023, "month": 1, "date": 1, "utc": true}, {"year": 2025, "month": 1, "date": 28, "utc": true}]},
          "axis": {
            "values": [
              {"year": 2023, "month": 1, "date": 1, "utc": true}, {"year": 2023, "month": 2, "date": 1, "utc": true}, {"year": 2023, "month": 3, "date": 1, "utc": true},
              {"year": 2023, "month": 4, "date": 1, "utc": true}, {"year": 2023, "month": 5, "date": 1, "utc": true}, {"year": 2023, "month": 6, "date": 1, "utc": true},
              {"year": 2023, "month": 7, "date": 1, "utc": true}, {"year": 2023, "month": 8, "date": 1, "utc": true}, {"year": 2023, "month": 9, "date": 1, "utc": true},
              {"year": 2023, "month": 10, "date": 1, "utc": true}, {"year": 2023, "month": 11, "date": 1, "utc": true}, {"year": 2023, "month": 12, "date": 1, "utc": true},
              {"year": 2024, "month": 1, "date": 1, "utc": true}, {"year": 2024, "month": 2, "date": 1, "utc": true}, {"year": 2024, "month": 3, "date": 1, "utc": true},
              {"year": 2024, "month": 4, "date": 1, "utc": true}, {"year": 2024, "month": 5, "date": 1, "utc": true}, {"year": 2024, "month": 6, "date": 1, "utc": true},
              {"year": 2024, "month": 7, "date": 1, "utc": true}, {"year": 2024, "month": 8, "date": 1, "utc": true}, {"year": 2024, "month": 9, "date": 1, "utc": true},
              {"year": 2024, "month": 10, "date": 1, "utc": true}, {"year": 2024, "month": 11, "date": 1, "utc": true}, {"year": 2024, "month": 12, "date": 1, "utc": true},
              {"year": 2025, "month": 1, "date": 1, "utc": true}
            ],
            "labelExpr": "utcmonth(datum.value) == 0 ? '' + utcyear(datum.value) : (utcmonth(datum.value) == 1 ? '' : ['I','II','III','IV','V','VI','VII','VIII','IX','X','XI','XII'][utcmonth(datum.value)])",
            "labelAlign": {"condition": {"test": "utcmonth(datum.value) == 0", "value": "left"}, "value": "center"},
            "labelOffset": {"condition": {"test": "utcmonth(datum.value) == 0", "value": 2}, "value": 23},
            "labelFontSize": {"condition": {"test": "utcmonth(datum.value) == 0", "value": 22}, "value": 14.5},
            "labelBaseline": "alphabetic",
            "labelPadding": 5,
            "labelOverlap": false, "labelFlush": false, "labelBound": false,
            "labelColor": "black",
            "grid": false,
            "domainColor": "black", "domainWidth": 2,
            "ticks": true, "tickColor": "black", "tickSize": 42, "tickWidth": 1.5,
            "title": "29-Jan-2024 05:27:12",
            "titleX": 1157, "titleY": 62, "titleAlign": "left", "titleBaseline": "middle",
            "titleFontSize": 16.5, "titleFontWeight": "normal", "titleColor": "black",
            "zindex": 1
          }
        },
        "y": {
          "field": "hi", "type": "quantitative",
          "scale": {"domain": [0, 110], "nice": false, "zero": true},
          "axis": {
            "values": [0, 10, 20, 30, 40, 50, 60, 70, 80, 90, 100, 110],
            "grid": false,
            "domainColor": "black", "domainWidth": 3,
            "ticks": false,
            "labelFontSize": 28, "labelPadding": 17, "labelColor": "black", "labelBaseline": "middle",
            "labelFlush": false, "labelOverlap": false, "labelBound": false,
            "title": "Virtaama Discharge m³/s",
            "titleFontSize": 22, "titleFontWeight": "normal", "titleColor": "black",
            "titleX": -142, "titleY": 281, "titleAngle": -90, "titleAlign": "center", "titleBaseline": "middle",
            "zindex": 1
          }
        },
        "y2": {"field": "lo"}
      }
    },
    {
      "data": {"name": "vgrid"},
      "mark": {"type": "rule", "color": "black", "strokeWidth": 1.7, "strokeDash": [10, 4]},
      "encoding": {"x": {"field": "date", "type": "temporal"}}
    },
    {
      "data": {"name": "hgrid"},
      "mark": {"type": "rule", "color": "black", "strokeWidth": 1.7, "strokeDash": [10, 4]},
      "encoding": {"y": {"field": "q", "type": "quantitative"}}
    },
    {
      "data": {"name": "lines"},
      "transform": [{"filter": "datum.series == 'Ennust.minimihuippu'"}],
      "mark": {"type": "line", "strokeWidth": 5.5, "strokeCap": "butt"},
      "encoding": {
        "x": {"field": "date", "type": "temporal"},
        "y": {"field": "q", "type": "quantitative"},
        "stroke": {
          "field": "series", "type": "nominal",
          "scale": {
            "domain": ["Ennusteen alku", "Ennustettu ka huippu", "Ennust.maksimihuippu", "Ennust.minimihuippu", "Ennust. vaihteluväli", "Simuloitu"],
            "range": ["#22ddee", "#0a14f0", "#ff0000", "#1ee81e", "#ffff00", "#0a14f0"]
          },
          "legend": {
            "orient": "none", "legendX": 1152, "legendY": -39, "title": null, "direction": "vertical",
            "symbolType": "M-1,0.0316H1", "symbolSize": 36100, "symbolStrokeWidth": 5, "clipHeight": 36, "rowPadding": 4.3,
            "labelBaseline": "bottom", "labelOffset": -190, "labelFontSize": 18, "labelLimit": 400, "labelColor": "black", "padding": 0
          }
        },
        "strokeDash": {
          "field": "series", "type": "nominal",
          "scale": {
            "domain": ["Ennusteen alku", "Ennustettu ka huippu", "Ennust.maksimihuippu", "Ennust.minimihuippu", "Ennust. vaihteluväli", "Simuloitu"],
            "range": [[8, 5], [4, 3], [4, 3], [4, 3], [1, 0], [1, 0]]
          },
          "legend": {
            "orient": "none", "legendX": 1152, "legendY": -39, "title": null, "direction": "vertical",
            "symbolType": "M-1,0.0316H1", "symbolSize": 36100, "symbolStrokeWidth": 5, "clipHeight": 36, "rowPadding": 4.3,
            "labelBaseline": "bottom", "labelOffset": -190, "labelFontSize": 18, "labelLimit": 400, "labelColor": "black", "padding": 0
          }
        }
      }
    },
    {
      "data": {"name": "lines"},
      "transform": [{"filter": "datum.series == 'Ennust.maksimihuippu'"}],
      "mark": {"type": "line", "strokeWidth": 5.5, "strokeCap": "butt"},
      "encoding": {
        "x": {"field": "date", "type": "temporal"},
        "y": {"field": "q", "type": "quantitative"},
        "stroke": {"field": "series", "type": "nominal"},
        "strokeDash": {"field": "series", "type": "nominal"}
      }
    },
    {
      "data": {"name": "lines"},
      "transform": [{"filter": "datum.series == 'Ennustettu ka huippu'"}],
      "mark": {"type": "line", "strokeWidth": 5.5, "strokeCap": "butt"},
      "encoding": {
        "x": {"field": "date", "type": "temporal"},
        "y": {"field": "q", "type": "quantitative"},
        "stroke": {"field": "series", "type": "nominal"},
        "strokeDash": {"field": "series", "type": "nominal"}
      }
    },
    {
      "data": {"name": "lines"},
      "transform": [{"filter": "datum.series == 'Simuloitu'"}],
      "mark": {"type": "line", "strokeWidth": 6.5, "strokeCap": "butt"},
      "encoding": {
        "x": {"field": "date", "type": "temporal"},
        "y": {"field": "q", "type": "quantitative"},
        "stroke": {"field": "series", "type": "nominal"},
        "strokeDash": {"field": "series", "type": "nominal"}
      }
    },
    {
      "data": {"name": "start"},
      "mark": {"type": "rule", "color": "#22ddee", "strokeWidth": 4, "strokeDash": [8, 5]},
      "encoding": {"x": {"field": "date", "type": "temporal"}}
    }
  ]
}
